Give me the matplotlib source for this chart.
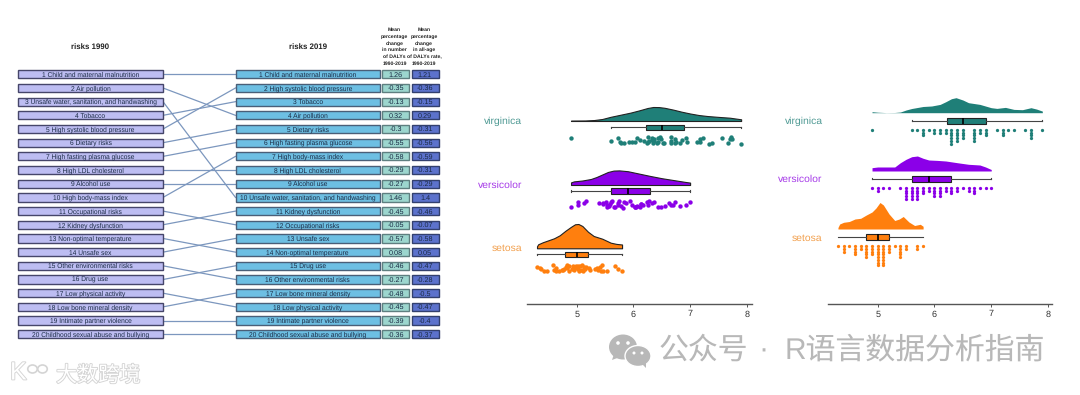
import numpy as np
import matplotlib
matplotlib.use("Agg")
import matplotlib.pyplot as plt
from matplotlib.patches import Ellipse, Polygon, Rectangle
import matplotlib.patheffects as pe

W, H = 1080, 395

risks_1990 = ["Child and maternal malnutrition", "Air pollution",
              "Unsafe water, sanitation, and handwashing", "Tobacco",
              "High systolic blood pressure", "Dietary risks",
              "High fasting plasma glucose", "High LDL cholesterol",
              "Alcohol use", "High body-mass index", "Occupational risks",
              "Kidney dysfunction", "Non-optimal temperature", "Unsafe sex",
              "Other environmental risks", "Drug use", "Low physical activity",
              "Low bone mineral density", "Intimate partner violence",
              "Childhood sexual abuse and bullying"]
risks_2019 = ["Child and maternal malnutrition", "High systolic blood pressure",
              "Tobacco", "Air pollution", "Dietary risks",
              "High fasting plasma glucose", "High body-mass index",
              "High LDL cholesterol", "Alcohol use",
              "Unsafe water, sanitation, and handwashing", "Kidney dysfunction",
              "Occupational risks", "Unsafe sex", "Non-optimal temperature",
              "Drug use", "Other environmental risks", "Low bone mineral density",
              "Low physical activity", "Intimate partner violence",
              "Childhood sexual abuse and bullying"]
change_number = ["1.26", "-0.35", "-0.13", "0.32", "-0.3", "-0.55", "-0.58", "-0.29", "-0.27", "1.46",
                 "-0.45", "-0.05", "-0.57", "0.08", "-0.46", "-0.27", "-0.48", "-0.45", "-0.39", "-0.36"]
change_rate = ["1.21", "-0.36", "-0.15", "0.29", "-0.31", "-0.56", "-0.59", "-0.31", "-0.29", "1.4",
               "-0.46", "-0.07", "-0.58", "0.05", "-0.47", "-0.28", "-0.5", "-0.47", "-0.4", "-0.37"]
header_number = "Mean\npercentage\nchange\nin number\nof DALYs\n1990-2019"
header_rate = "Mean\npercentage\nchange\nin all-age\nof DALYs rate,\n1990-2019"

setosa = [5.1, 4.9, 4.7, 4.6, 5.0, 5.4, 4.6, 5.0, 4.4, 4.9, 5.4, 4.8, 4.8, 4.3, 5.8, 5.7, 5.4,
          5.1, 5.7, 5.1, 5.4, 5.1, 4.6, 5.1, 4.8, 5.0, 5.0, 5.2, 5.2, 4.7, 4.8, 5.4, 5.2, 5.5,
          4.9, 5.0, 5.5, 4.9, 4.4, 5.1, 5.0, 4.5, 4.4, 5.0, 5.1, 4.8, 5.1, 4.6, 5.3, 5.0]
versicolor = [7.0, 6.4, 6.9, 5.5, 6.5, 5.7, 6.3, 4.9, 6.6, 5.2, 5.0, 5.9, 6.0, 6.1, 5.6, 6.7, 5.6,
              5.8, 6.2, 5.6, 5.9, 6.1, 6.3, 6.1, 6.4, 6.6, 6.8, 6.7, 6.0, 5.7, 5.5, 5.5, 5.8, 6.0,
              5.4, 6.0, 6.7, 6.3, 5.6, 5.5, 5.5, 6.1, 5.8, 5.0, 5.6, 5.7, 5.7, 6.2, 5.1, 5.7]
virginica = [6.3, 5.8, 7.1, 6.3, 6.5, 7.6, 4.9, 7.3, 6.7, 7.2, 6.5, 6.4, 6.8, 5.7, 5.8, 6.4, 6.5,
             7.7, 7.7, 6.0, 6.9, 5.6, 7.7, 6.3, 6.7, 7.2, 6.2, 6.1, 6.4, 7.2, 7.4, 7.9, 6.4, 6.3,
             6.1, 7.7, 6.3, 6.4, 6.0, 6.9, 6.7, 6.9, 5.8, 6.8, 6.7, 6.7, 6.3, 6.5, 6.2, 5.9]

jit_setosa = [-1, 3, 2, -3, 1, 0, 3, -2, 1, -2, 3, 2, -1, -1, 3, 1, -3, 2, -2, 0, 2, -2, 0, 3, 1,
              -2, 2, 0, -1, 3, -3, -1, 2, 3, 1, -1, 3, -2, 3, 1, 3, 3, 0, 0, -3, 0, 1, 2, 1, -1]
jit_versicolor = [-2, -2, 1, 1, 3, -1, 1, 3, -1, -3, 1, -1, 3, 0, -3, 1, 2, 4, -2, 0, -3, 2, -1, 3, 3,
                  2, 2, -2, 1, 3, 0, -2, 2, 3, -1, 3, 1, -3, -2, 3, -1, 0, -2, -2, 2, 1, 3, 1, -1, -3]
jit_virginica = [-2, 2, 2, 2, 3, -2, -2, 4, 1, -2, -1, 2, 2, -2, 3, -1, 3, 3, -3, 2, 2, 1, -1, 1, 3,
                 -1, 3, 0, -2, 2, 3, 4, 1, 3, -2, -1, -3, 3, 2, -2, 3, 0, 3, 3, -1, -3, 0, -3, 1, 2]
xjit_setosa = [.02, -.03, .04, -.02, .03, -.04, .03, -.01, -.03, .04, .02, -.04, .01, .0, .0, .03, .04,
               -.02, -.03, .04, -.03, -.04, .04, .01, -.02, .03, -.04, .02, -.03, -.02, .03, .01, .04, -.03,
               .02, -.02, .03, -.04, .03, .02, .04, -.03, -.04, .01, -.01, .03, .04, .0, .02, -.03]
xjit_versicolor = [.0, -.03, .03, .04, -.02, .03, -.04, .0, .02, -.04, .03, -.03, .02, .04, .03, -.03, -.04,
                   .02, .04, -.02, .04, -.04, .03, .01, .03, -.04, .02, .04, -.03, -.04, -.03, .02, -.02, .03,
                   -.01, .04, -.01, -.02, .01, .03, -.04, .03, .04, .03, -.03, .02, -.02, -.03, .03, .04]
xjit_virginica = [.02, -.03, .02, -.04, .03, -.04, .0, .03, -.03, .02, -.01, .03, -.04, .03, .04, -.03, .04,
                  -.04, .02, -.03, .04, .0, .01, -.02, .03, -.03, .04, .02, .03, -.02, -.01, .0, -.04, .04,
                  -.03, .04, -.04, .01, .03, .02, -.03, -.04, -.01, .02, .04, -.04, .03, -.03, -.02, .03]

# density shapes, x value and height in px
cloud_x_vir = [4.9, 5.15, 5.3, 5.45, 5.6, 5.8, 5.95, 6.1, 6.25, 6.35, 6.45, 6.55, 6.7, 6.85, 7.0, 7.15, 7.3, 7.5, 7.7, 7.85, 7.9]
cloud_y_vir = [0.4, 0.5, 0.9, 2.0, 4.2, 6.6, 8.4, 10.6, 13.0, 14.0, 13.9, 13.2, 11.4, 9.3, 7.5, 6.0, 5.0, 4.1, 3.3, 2.1, 1.7]
cloud_x_ver = [4.9, 4.95, 5.1, 5.25, 5.35, 5.45, 5.55, 5.65, 5.75, 5.9, 6.1, 6.3, 6.5, 6.7, 6.9, 7.0]
cloud_y_ver = [2.6, 3.6, 4.5, 6.0, 8.0, 10.5, 13.0, 14.4, 14.6, 13.8, 11.4, 9.0, 6.8, 5.0, 3.2, 2.4]
cloud_x_set = [4.3, 4.32, 4.4, 4.5, 4.6, 4.7, 4.8, 4.9, 4.97, 5.03, 5.1, 5.2, 5.3, 5.45, 5.6, 5.7, 5.8]
cloud_y_set = [2.0, 4.0, 6.0, 8.0, 10.0, 13.0, 17.5, 21.5, 24.0, 24.3, 22.3, 16.5, 12.3, 9.6, 5.6, 4.4, 3.8]

bump_x_vir = [4.9, 5.0, 5.15, 5.3, 5.4, 5.5, 5.6, 5.7, 5.8, 5.95, 6.1, 6.2, 6.3, 6.38, 6.5, 6.6, 6.8, 7.0, 7.1, 7.25, 7.4, 7.55, 7.7, 7.8, 7.9]
bump_y_vir = [1.0, 0.5, 0.1, 0.2, 0.7, 2.7, 4.2, 5.2, 6.2, 6.7, 8.3, 11, 14, 15, 12.7, 10, 8.3, 5, 4.3, 5.3, 3.3, 3, 5, 3.6, 1.6]
bump_x_ver = [4.9, 5.0, 5.15, 5.3, 5.4, 5.5, 5.6, 5.7, 5.8, 5.9, 6.05, 6.2, 6.4, 6.6, 6.8, 6.9, 7.0]
bump_y_ver = [3.3, 4, 4, 4, 8.3, 11.7, 14.3, 15, 12.7, 11, 10.6, 10, 8.3, 6.7, 6, 4, 1.5]
bump_x_set = [4.3, 4.33, 4.4, 4.5, 4.6, 4.7, 4.8, 4.9, 4.97, 5.04, 5.1, 5.2, 5.3, 5.38, 5.45, 5.55, 5.65, 5.75, 5.8]
bump_y_set = [1.5, 5, 6.7, 7.5, 10, 10.7, 14, 17, 21, 26.5, 24, 15, 8.5, 10, 12.5, 7, 3.5, 4.7, 2.7]

species = ["setosa", "versicolor", "virginica"]
values = [setosa, versicolor, virginica]
jitters = [jit_setosa, jit_versicolor, jit_virginica]
xjitters = [xjit_setosa, xjit_versicolor, xjit_virginica]
clouds = [(cloud_x_set, cloud_y_set), (cloud_x_ver, cloud_y_ver), (cloud_x_vir, cloud_y_vir)]
bumps = [(bump_x_set, bump_y_set), (bump_x_ver, bump_y_ver), (bump_x_vir, bump_y_vir)]
colors = ["#FF7F0E", "#8B00E8", "#1F7F78"]
label_colors = ["#F2A04E", "#A63BE8", "#4F9A94"]

x_ticks = [5, 6, 7, 8]

plt.rcParams['font.family'] = ['Liberation Sans', 'Noto Sans CJK SC', 'DejaVu Sans']
plt.rcParams['text.hinting'] = 'none'

fig = plt.figure(figsize=(W / 100, H / 100), dpi=100)

# whole figure in px for the table part and the watermarks
bg = fig.add_axes([0, 0, 1, 1])
bg.set_xlim(0, W)
bg.set_ylim(H, 0)
bg.axis("off")

ROW0, ROW_STEP, BOX_H = 74.3, 13.68, 8.2
L0, L1, R0, R1 = 18, 163, 235.5, 380
C0, C1, D0, D1 = 382, 409, 411.5, 438.5


def row_y(i):
    return ROW0 + i * ROW_STEP


def cell(x0, x1, i, text, face, edge, col="#1A2A44", size=4.8):
    bg.add_patch(Rectangle((x0, row_y(i) - BOX_H / 2), x1 - x0, BOX_H, fc=face, ec=edge, lw=1))
    bg.text((x0 + x1) / 2, row_y(i) - 0.2, text, ha="center", va="center_baseline", fontsize=size, color=col)


for i, name in enumerate(risks_1990):
    j = risks_2019.index(name)
    bg.plot([L1, R0], [row_y(i), row_y(j)], color="#7C97BE", lw=0.9, zorder=1)

for i in range(len(risks_1990)):
    cell(L0, L1, i, f"{i + 1} {risks_1990[i]}", "#BDBDF2", "#46466A")
    cell(R0, R1, i, f"{i + 1} {risks_2019[i]}", "#6DBFE3", "#4A5F78")
    cell(C0, C1, i, change_number[i], "#9CD6CE", "#5F7F80", size=5.2)
    cell(D0, D1, i, change_rate[i], "#5C72CC", "#33406E", size=5.2)

bg.text(90.5, 47, "risks 1990", ha="center", va="center", fontsize=5.7, fontweight="bold", color="#222222")
bg.text(308, 47, "risks 2019", ha="center", va="center", fontsize=5.7, fontweight="bold", color="#222222")
bg.text(394.5, 46.7, header_number, ha="center", va="center", fontsize=3.7, fontweight="bold",
        color="#222222", linespacing=1.55)
bg.text(424, 46.7, header_rate, ha="center", va="center", fontsize=3.7, fontweight="bold",
        color="#222222", linespacing=1.55)

# watermarks
gray = "#B8B8B8"
bg.add_patch(Ellipse((623, 347), 28, 25, fc=gray, ec="none"))
bg.add_patch(Polygon([[614, 354], [612, 360], [620, 357]], fc=gray, ec="none"))
bg.add_patch(Ellipse((638, 356), 26, 21, fc=gray, ec="white", lw=1))
bg.add_patch(Polygon([[642, 364], [646, 368], [646, 362]], fc=gray, ec="none"))
for ex, ey, er in [(618, 343, 1.8), (628, 343, 1.8), (634, 353, 1.5), (642, 353, 1.5)]:
    bg.add_patch(Ellipse((ex, ey), er * 2, er * 2, fc="white", ec="none"))
bg.text(659, 351, "公众号", ha="left", va="center", fontsize=21.5, color=gray)
bg.text(763, 351, "·", ha="center", va="center", fontsize=21.5, color=gray)
bg.text(785, 351, "R语言数据分析指南", ha="left", va="center", fontsize=21.5, color=gray)

halo = [pe.withStroke(linewidth=1.3, foreground="#D4D4D4")]
bg.text(56, 376, "大数跨境", ha="left", va="center", fontsize=15.2, color="white", path_effects=halo)
bg.text(10, 373, "K", ha="left", va="center", fontsize=18, color="white", path_effects=halo)
for ex in [32.5, 42.5]:
    bg.add_patch(Ellipse((ex, 369), 9.5, 8, fc="white", ec="#D4D4D4", lw=1.2))


def rain_axes(x0, x1, x5, x8):
    # px geometry of one panel, data x along the bottom, px y downwards from the top of the figure
    ax = fig.add_axes([x0 / W, (H - 303.7) / H, (x1 - x0) / W, 303.7 / H])
    scale = (x8 - x5) / 3
    ax.set_xlim(5 + (x0 - x5) / scale, 5 + (x1 - x5) / scale)
    ax.set_ylim(303.7, 0)
    ax.patch.set_alpha(0)
    for s in ["top", "right", "left"]:
        ax.spines[s].set_visible(False)
    ax.spines["bottom"].set_color("#555555")
    ax.spines["bottom"].set_linewidth(1)
    ax.set_yticks([])
    ax.set_xticks(x_ticks)
    ax.tick_params(axis="x", length=2.5, width=0.7, color="#555555", labelsize=6.5,
                   labelcolor="#333333", pad=2)
    return ax


def draw_box(ax, vals, y, color, cap):
    ax.boxplot(vals, vert=False, positions=[y], widths=5.6, manage_ticks=False, showfliers=False,
               patch_artist=True, capwidths=cap,
               boxprops=dict(facecolor=color, edgecolor="#222222", linewidth=0.8),
               medianprops=dict(color="black", linewidth=1.2),
               whiskerprops=dict(color="#444444", linewidth=0.8),
               capprops=dict(color="#444444", linewidth=0.8))


left = rain_axes(527, 752, 576.7, 746.8)
right = rain_axes(828, 1052, 877.7, 1048)

base_l = [248.3, 185, 121]
box_l = [254.3, 190.7, 127.3]
strip_l = [268, 204, 140]
label_l = [248.5, 185.5, 121.7]
base_r = [229, 171, 112.7]
box_r = [237, 178.7, 120.7]
dots_r = [246.3, 188, 130]
label_r = [238, 179.5, 121.3]

for k in range(3):
    cx, cy = clouds[k]
    left.fill_between(cx, base_l[k] - np.array(cy), base_l[k], color=colors[k], ec="#222222", lw=0.8)
    draw_box(left, values[k], box_l[k], colors[k], 1.6)
    left.scatter(np.array(values[k]) + np.array(xjitters[k]), strip_l[k] + np.array(jitters[k]),
                 s=10, color=colors[k], lw=0, clip_on=False)
    bg.text(522, label_l[k], species[k], ha="right", va="center", fontsize=7.5, color=label_colors[k])

    bx, by = bumps[k]
    right.fill_between(bx, base_r[k] - np.array(by), base_r[k], color=colors[k], lw=0)
    draw_box(right, values[k], box_r[k], colors[k], 0.6)
    uniq, counts = np.unique(values[k], return_counts=True)
    for u, c in zip(uniq, counts):
        right.scatter([u] * c, dots_r[k] + np.arange(c) * 2.72, s=5.5, color=colors[k], lw=0, clip_on=False)
    bg.text(822.7, label_r[k], species[k], ha="right", va="center", fontsize=7.5, color=label_colors[k])

fig.savefig("out.png", dpi=100)
